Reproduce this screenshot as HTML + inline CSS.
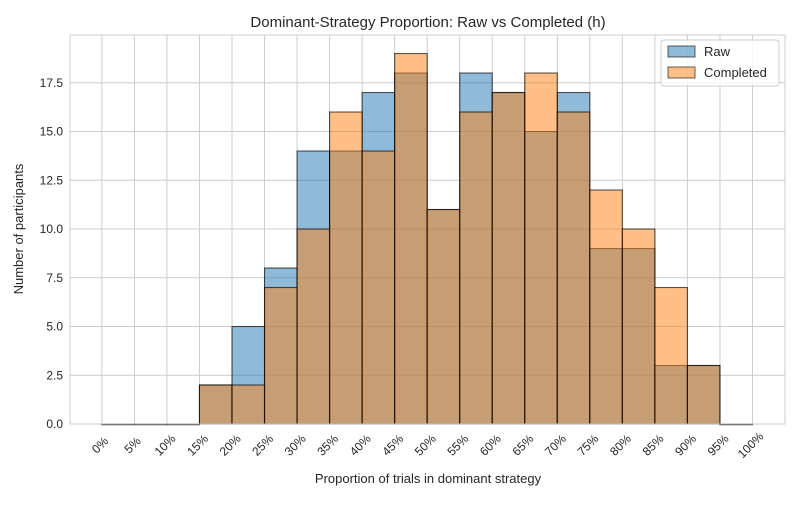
<!DOCTYPE html>
<html><head><meta charset="utf-8"><style>
body{margin:0;background:#fff;font-family:"Liberation Sans",sans-serif}
svg text{font-family:"Liberation Sans",sans-serif;fill:#262626}
</style></head><body>
<svg id="chart" width="800" height="500">
<rect width="800" height="500" fill="#fff"/>
<g id="grid"></g><g id="bars"></g><g id="axes"></g>
<text x="428" y="27" text-anchor="middle" font-size="15">Dominant-Strategy Proportion: Raw vs Completed (h)</text>
<text x="428" y="483" text-anchor="middle" font-size="13">Proportion of trials in dominant strategy</text>
<text transform="translate(23,229) rotate(-90)" text-anchor="middle" font-size="13">Number of participants</text>
<g>
<rect x="661" y="40" width="118" height="46" fill="#fff" fill-opacity="0.8" stroke="#ccc" rx="3"/>
<rect x="668" y="46" width="27" height="11" fill="#1f77b4" fill-opacity="0.5" stroke="#000" stroke-opacity="0.6"/>
<text x="704" y="56" font-size="13">Raw</text>
<rect x="668" y="67" width="27" height="11" fill="#ff7f0e" fill-opacity="0.5" stroke="#000" stroke-opacity="0.6"/>
<text x="704" y="77" font-size="13">Completed</text>
</g>
</svg>
<script>
const binStarts=[0,5,10,15,20,25,30,35,40,45,50,55,60,65,70,75,80,85,90,95];
const rawCounts=[0,0,0,2,5,8,14,14,17,18,11,18,17,15,17,9,9,3,3,0];
const completedCounts=[0,0,0,2,2,7,10,16,14,19,11,16,17,18,16,12,10,7,3,0];
const yTicks=[0,2.5,5,7.5,10,12.5,15,17.5];
const xTicks=[0,5,10,15,20,25,30,35,40,45,50,55,60,65,70,75,80,85,90,95,100];
const binWidth=5;
const L=70,R=785,T=35,B=424;
const xMin=-4.9,xMax=105,yMin=0,yMax=19.95;
const sx=v=>L+(v-xMin)/(xMax-xMin)*(R-L);
const sy=v=>B-(v-yMin)/(yMax-yMin)*(B-T);
const NS="http://www.w3.org/2000/svg";
function mk(tag,attrs,parent){const e=document.createElementNS(NS,tag);for(const k in attrs)e.setAttribute(k,attrs[k]);parent.appendChild(e);return e;}
const grid=document.getElementById('grid'),bars=document.getElementById('bars'),axes=document.getElementById('axes');
yTicks.forEach(t=>{
  const l=mk('line',{x1:L,x2:R,y1:sy(t),y2:sy(t),stroke:'#cccccc','stroke-width':1},grid);
  
  
  const tx=mk('text',{x:L-7,y:sy(t)+4,'text-anchor':'end','font-size':12},axes);
  tx.textContent=t.toFixed(1);
  
  
});
xTicks.forEach(t=>{
  const l=mk('line',{x1:sx(t),x2:sx(t),y1:T,y2:B,stroke:'#cccccc','stroke-width':1},grid);
  
  
  const tx=mk('text',{x:0,y:0,'text-anchor':'middle','font-size':12,transform:`translate(${sx(t)+1},${B+24}) rotate(-45)`},axes);
  tx.textContent=t+'%';
  
  
});
function drawSeries(vals,color,name){
  binStarts.forEach((s,i)=>{
    const x0=sx(s),x1=sx(s+binWidth),y=sy(vals[i]);
    const r=mk('rect',{x:x0,y:y,width:x1-x0,height:Math.max(B-y,0.6),fill:color,'fill-opacity':0.5,stroke:'#000','stroke-opacity':0.65,'stroke-width':1.1},bars);
    
    
  });
}
drawSeries(rawCounts,'#1f77b4','raw');
drawSeries(completedCounts,'#ff7f0e','completed');
const frame=mk('rect',{x:L,y:T,width:R-L,height:B-T,fill:'none',stroke:'#cccccc','stroke-width':1},axes);


</script>
</body></html>
